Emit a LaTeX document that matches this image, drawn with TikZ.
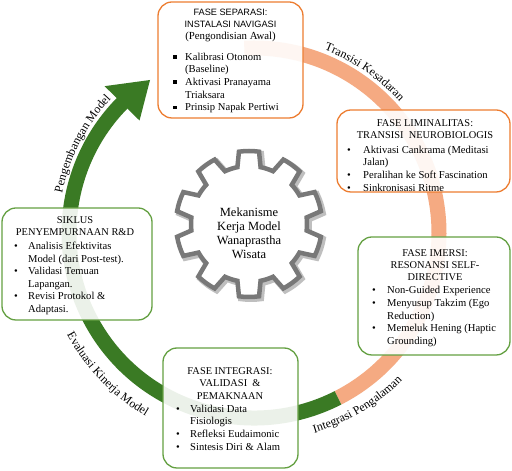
\documentclass[tikz,border=0pt]{standalone}
\usepackage{fontspec}
\setmainfont{Liberation Serif}
\newfontfamily\hsans{Liberation Sans}
\usetikzlibrary{calc,decorations.text}
\definecolor{ringor}{RGB}{245,170,130}
\definecolor{ringgr}{RGB}{58,122,36}
\definecolor{boxor}{RGB}{237,125,49}
\definecolor{boxgr}{RGB}{100,160,66}
\definecolor{gearc}{RGB}{120,120,120}
\newcommand{\bodyfs}{\fontsize{10.6}{12.6}\selectfont}
\newcommand{\headfs}{\fontsize{10.4}{12.2}\selectfont}
\newcommand{\labfs}{\fontsize{12}{13}\selectfont}
\newcommand{\rbul}[2]{\makebox[#1][l]{\textbullet}#2}
\newcommand{\sbul}[2]{\makebox[#1][l]{\rule[1.8pt]{3.4pt}{3.4pt}}#2}
\newcommand{\cnt}[2]{\hspace*{#1}#2}
\newcommand{\gearpath}{({90-0.32*36}:58) \foreach \i in {0,...,9}{
  -- ({90+\i*36-0.22*36}:73) arc[start angle={90+\i*36-0.22*36}, end angle={90+\i*36+0.22*36}, radius=73]
  -- ({90+\i*36+0.32*36}:58) arc[start angle={90+\i*36+0.32*36}, end angle={90+\i*36+0.68*36}, radius=58]} -- cycle}
\begin{document}
\begin{tikzpicture}[x=1pt,y=1pt,
  boxO/.style={draw=boxor, line width=1.3pt, rounded corners=14pt, fill=white, fill opacity=0.9, inner sep=0pt},
  boxG/.style={boxO, draw=boxgr},
  txt/.style={inner sep=0pt},
  head/.style={txt, align=center, font=\headfs},
  list/.style={txt, align=left, font=\bodyfs, anchor=west},
  ring/.style={line width=15pt, line cap=butt},
  arclab/.style={decorate, decoration={text along path, text align=center, text={|\labfs|#1}}},
  gearline/.style={draw=gearc, line width=4.5pt, line join=miter, fill=white},
]
\path[use as bounding box, fill=white] (0,0) rectangle (512,471);
\coordinate (C) at (254,238);
\coordinate (oS) at ($(C)+(93:185)$);
\coordinate (gS) at ($(C)+(-63:185)$);
% ring
\draw[ring, ringor] (oS) arc[start angle=93, end angle=-63, radius=185];
\draw[ring, ringgr] (gS) arc[start angle=-63, end angle=-226, radius=185];
\fill[ringgr] ($(C)+(135.5:209.5)$) -- ($(C)+(124.2:185)$) -- ($(C)+(135.5:160.5)$) -- cycle;
% arc labels
\path[arclab={Transisi Kesadaran}] ($(C)+(75:196)$) arc[start angle=75, end angle=36, radius=196];
\path[arclab={Integrasi Pengalaman}] ($(C)+(-80:209)$) arc[start angle=-80, end angle=-38, radius=209];
\path[arclab={Evaluasi Kinerja Model}] ($(C)+(-160:213)$) arc[start angle=-160, end angle=-112, radius=213];
\path[arclab={Pengembangan Model}] ($(C)+(175:196)$) arc[start angle=175, end angle=130, radius=196];
% boxes
\node[boxO, minimum width=145pt, minimum height=116pt] (sep) at (230.5,411) {};
\node[boxO, minimum width=173pt, minimum height=82pt] (lim) at (423.5,320) {};
\node[boxG, minimum width=152pt, minimum height=118pt] (ime) at (434,175) {};
\node[boxG, minimum width=135pt, minimum height=120pt] (int) at (230.5,63) {};
\node[boxG, minimum width=150pt, minimum height=112pt] (sik) at (77,207) {};
% box 1
\node[txt, align=center] (sepH) at (230.5,446) {\hsans\fontsize{9.2}{12}\selectfont FASE SEPARASI:\\\hsans\fontsize{9.2}{12}\selectfont INSTALASI NAVIGASI\\\rmfamily\fontsize{10.8}{12}\selectfont (Pengondisian Awal)};
\node[list] (sepL) at (173,388) {\sbul{12pt}{Kalibrasi Otonom}\\\cnt{12pt}{(Baseline)}\\\sbul{12pt}{Aktivasi Pranayama}\\\cnt{12pt}{Triaksara}\\\sbul{12pt}{Prinsip Napak Pertiwi}};
% box 2
\node[head] (limH) at (425,342) {FASE LIMINALITAS:\\TRANSISI~ NEUROBIOLOGIS};
\node[list] (limL) at (347,302.5) {\rbul{16pt}{Aktivasi Cankrama (Meditasi}\\\cnt{16pt}{Jalan)}\\\rbul{16pt}{Peralihan ke Soft Fascination}\\\rbul{16pt}{Sinkronisasi Ritme}};
% box 3
\node[head] (imeH) at (435,206) {FASE IMERSI:\\RESONANSI SELF-\\DIRECTIVE};
\node[list] (imeL) at (372,154.5) {\rbul{15pt}{Non-Guided Experience}\\\rbul{15pt}{Menyusup Takzim (Ego}\\\cnt{15pt}{Reduction)}\\\rbul{15pt}{Memeluk Hening (Haptic}\\\cnt{15pt}{Grounding)}};
% box 4
\node[head] (intH) at (230,87.5) {FASE INTEGRASI:\\VALIDASI~ \&\\PEMAKNAAN};
\node[list] (intL) at (176,43.5) {\rbul{14pt}{Validasi Data}\\\cnt{14pt}{Fisiologis}\\\rbul{14pt}{Refleksi Eudaimonic}\\\rbul{14pt}{Sintesis Diri \& Alam}};
% box 5
\node[head] (sikH) at (75,244.5) {SIKLUS\\PENYEMPURNAAN R\&D};
\node[list] (sikL) at (14,192.5) {\rbul{14pt}{Analisis Efektivitas}\\\cnt{14pt}{Model (dari Post-test).}\\\rbul{14pt}{Validasi Temuan}\\\cnt{14pt}{Lapangan.}\\\rbul{14pt}{Revisi Protokol \&}\\\cnt{14pt}{Adaptasi.}};
% gear
\coordinate (G) at (249,247);
\begin{scope}[shift={(251,245)}]
\draw[draw=black!25, line width=6pt, line join=miter] \gearpath;
\end{scope}
\begin{scope}[shift={(G)}]
\draw[gearline] \gearpath;
\end{scope}
\node[txt, align=center, font=\fontsize{12.5}{14}\selectfont] (gearT) at (249,238) {Mekanisme\\Kerja Model\\Wanaprastha\\Wisata};
\end{tikzpicture}
\end{document}
